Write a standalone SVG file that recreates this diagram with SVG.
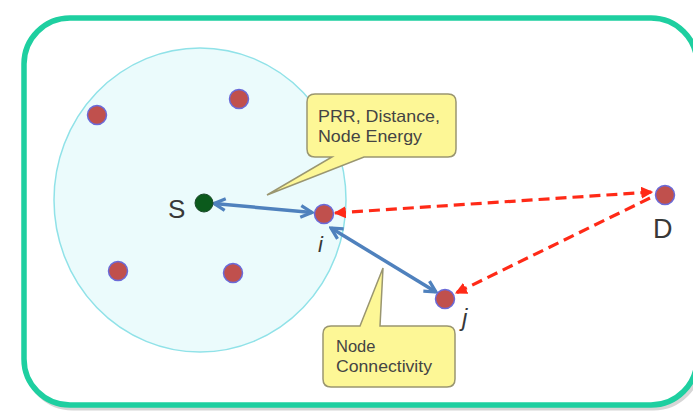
<svg xmlns="http://www.w3.org/2000/svg" width="693" height="413" viewBox="0 0 693 413">
<style>
.node{fill:#c0504d;stroke:#6a6ad8;stroke-width:1.5}
.lbl{font-family:"Liberation Sans",Arial,sans-serif;fill:#383838}
.call{fill:#fdf796;stroke:#9a9670;stroke-width:1.5}
.ct{font-family:"Liberation Sans",Arial,sans-serif;font-size:16.5px;fill:#444}
.blue{stroke:#4f81bd;stroke-width:3.5;fill:none}
.red{stroke:#ff2a17;stroke-width:3.2;fill:none;stroke-dasharray:11 6}
</style>
<defs>
<marker id="bh" viewBox="0 0 14 14" refX="12" refY="7" markerWidth="15" markerHeight="15" markerUnits="userSpaceOnUse" orient="auto-start-reverse">
<path d="M1.5,1.5 L12,7 L1.5,12.5" fill="none" stroke="#4f81bd" stroke-width="3"/>
</marker>
<marker id="rh" viewBox="0 0 10 10" refX="9" refY="5" markerWidth="12" markerHeight="12" markerUnits="userSpaceOnUse" orient="auto-start-reverse">
<path d="M0,0 L10,5 L0,10 Z" fill="#ff2a17"/>
</marker>
</defs>
<rect width="693" height="413" fill="#ffffff"/>
<rect x="26.5" y="21" width="673" height="387" rx="46" fill="none" stroke="#d6d6d6" stroke-width="5"/>
<rect x="24" y="18" width="673" height="387" rx="46" fill="#ffffff" stroke="#1ecfa0" stroke-width="5.5"/>
<rect x="29" y="23" width="664" height="378" rx="42" fill="#ffffff"/>
<ellipse cx="200" cy="200" rx="146" ry="152" fill="#ebfbfc" stroke="#90e2e8" stroke-width="1.5"/>
<g id="connectors">
<line class="blue" x1="214" y1="203.5" x2="312" y2="212.5" marker-start="url(#bh)" marker-end="url(#bh)"/>
<line class="blue" x1="331" y1="228" x2="436" y2="292" marker-start="url(#bh)" marker-end="url(#bh)"/>
<line class="red" x1="335" y1="213" x2="652" y2="192" marker-start="url(#rh)" marker-end="url(#rh)"/>
<line class="red" x1="650" y1="198" x2="456" y2="293" marker-end="url(#rh)"/>
</g>
<g id="n1"><circle class="node" cx="97" cy="115" r="9.5"/></g>
<g id="n2"><circle class="node" cx="239" cy="99" r="9.5"/></g>
<g id="n3"><circle class="node" cx="118" cy="271" r="9.5"/></g>
<g id="n4"><circle class="node" cx="233" cy="273" r="9.5"/></g>
<g id="S"><circle cx="204" cy="203" r="9" fill="#0b5a1c" stroke="#1a4a2a" stroke-width="1"/>
<text class="lbl" x="168" y="218" font-size="26">S</text></g>
<g id="i"><circle class="node" cx="324" cy="214" r="9.5"/>
<text class="lbl" x="318" y="252" font-size="22" font-style="italic">i</text></g>
<g id="j"><circle class="node" cx="445" cy="299" r="9.5"/>
<text class="lbl" x="462" y="326" font-size="24" font-style="italic">j</text></g>
<g id="D"><circle class="node" cx="665" cy="195" r="9.5"/>
<text class="lbl" x="653" y="238" font-size="27">D</text></g>
<g id="callout1">
<path class="call" d="M315,94 H448 Q456,94 456,102 V149 Q456,157 448,157 H364 L267,195 L332,157 H315 Q307,157 307,149 V102 Q307,94 315,94 Z"/>
<text class="ct" x="318" y="122" textLength="122" lengthAdjust="spacingAndGlyphs">PRR, Distance,</text>
<text class="ct" x="318" y="142" textLength="104" lengthAdjust="spacingAndGlyphs">Node Energy</text>
</g>
<g id="callout2">
<path class="call" d="M331,326 H360 L383,268 L380,326 H447 Q455,326 455,334 V379 Q455,387 447,387 H331 Q323,387 323,379 V334 Q323,326 331,326 Z"/>
<text class="ct" x="336" y="352">Node</text>
<text class="ct" x="336" y="372" textLength="96" lengthAdjust="spacingAndGlyphs">Connectivity</text>
</g>
</svg>
